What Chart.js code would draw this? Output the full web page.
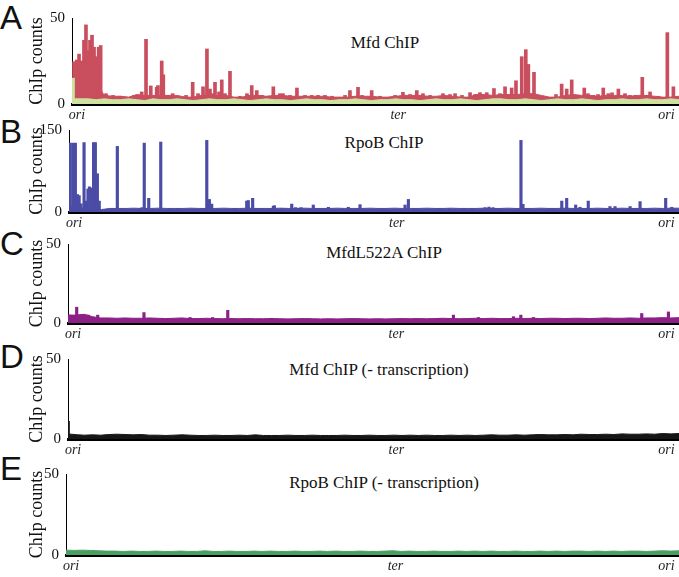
<!DOCTYPE html>
<html lang="en">
<head>
<meta charset="UTF-8">
<title>ChIP counts</title>
<script src="https://cdn.jsdelivr.net/npm/chart.js"></script>
<style>
  body { margin: 0; background: #fff; }
  #fig { position: relative; width: 679px; height: 577px; overflow: hidden; background: #fff; }
  #fig canvas { position: absolute; left: 0; }
  .lt { position: absolute; left: 0; font-family: "Liberation Sans", Arial, sans-serif; font-size: 33px; line-height: 1; color: #111; }
  .ttl { position: absolute; transform: translateX(-50%); font-family: "Liberation Serif", "Times New Roman", serif; font-size: 17px; line-height: 1; color: #111; white-space: nowrap; }
</style>
</head>
<body>
<div id="fig">
  <div class="lt" style="top:1px">A</div>
  <div class="lt" style="top:115px">B</div>
  <div class="lt" style="top:227px">C</div>
  <div class="lt" style="top:340px">D</div>
  <div class="lt" style="top:452px">E</div>
  <div class="ttl" style="left:385px;top:34px">Mfd ChIP</div>
  <div class="ttl" style="left:384px;top:134px">RpoB ChIP</div>
  <div class="ttl" style="left:384px;top:244px">MfdL522A ChIP</div>
  <div class="ttl" style="left:379px;top:361px">Mfd ChIP (- transcription)</div>
  <div class="ttl" style="left:384px;top:474px">RpoB ChIP (- transcription)</div>
  <canvas id="cA" width="679" height="126" style="top:0px"></canvas>
  <canvas id="cB" width="679" height="120" style="top:114px"></canvas>
  <canvas id="cC" width="679" height="117" style="top:228px"></canvas>
  <canvas id="cD" width="679" height="118" style="top:343px"></canvas>
  <canvas id="cE" width="679" height="119" style="top:458px"></canvas>
</div>
<script>
// genome position in kb, ori at both ends
var GENOME = 4215;
var tickPos = [35, 2265, 4128];
var tickLabels = ['ori', 'ter', 'ori'];

// A: Mfd ChIP (red peaks over a light green input track)
var mfdPos = [14,33,49,67,83,97,113,125,139,153,172,185,199,236,430,460,484,514,547,588,597,623,634,699,838,910,937,958,993,1040,1097,1215,1248,1283,1398,1444,1562,1665,1708,1757,1930,1986,2081,2298,2394,2437,2576,2660,2764,2833,2880,2930,3007,3053,3083,3123,3151,3169,3208,3400,3435,3470,3516,3557,3620,3689,3724,3794,3875,3910,3960,4014,4134,4176];
var mfdVal = [24.6,25.6,29,25,37,46,31,37,40,33,27.5,33,34,6,5,5,7,37.6,10.5,9.7,10.7,25,17,6,12.6,10,32,8.7,12.6,14,19,6,10.7,7.8,10,6,9.3,5,5,5,7.8,9.7,7.8,6.8,7.8,6,6,6,6.6,6.6,6.6,9,10,9.3,13.5,27.5,31.6,23,18.4,11.6,8.7,14,5,9.3,5,9.3,6,8.7,5,5,15.5,7,41.5,10];
var mfdSmallPos = [285,333,667,722,792,875,979,1021,1062,1167,1319,1361,1465,1514,1618,1805,1896,2014,2139,2243,2347,2486,2625,2708,2798,2972,3250,3361,3583,3653,3750,3840,3993,4069];
var mfdSmallVal = [5,4.5,5,4.5,5,6,6,7,6,4.5,5,4.5,6,5,5,4.5,5,5,4.5,5,5.5,5,5.5,5,5.5,6,4.5,5.5,6,5.5,6.5,6,5,4.5];
var mfdBase = [14,14,12,12,5,4.5,4.5,4,5.5,5,5,5,5,5,4,4,5,5,5,5,4,4,5,5,4.5,5,5,4.5,4.5,4.5,4.5,4.5,4,4,4,4.5,4.5,4.5,4,4,4.5,5,5,5,4.5,4.5,5,4.5,4,4,5.5,5.5,5,5.5,5.5,5.5,6,6,5,4,4,5,5.5,5,5,4.5,5,5,5,4.5,5,5,4.5,4,4,4.5];
var inputPeakPos = [7];
var inputPeakVal = [15];
var inputBase = [3,3,3,2.5,3,2.5,2.5,3,2.5,2,3,2.5,2.5,3,2.5,2,2.5,3,2.5,2.5,3,2.5,2,2.5,3,2.5,2.5,2,2.5,3,2.5,2.5,2,2.5,2.5,3,2.5,2,2.5,2.5,3,2.5,2.5,2,2.5,3,2.5,2.5,3,2.5,2,2.5,3,3,2.5,2.5,3,2.5,2,2.5,3,2.5,2.5,3,2.5,2,2.5,2.5,3,2.5,2.5,3,2.5,2.5,3,2.5];

// B: RpoB ChIP
var rpoPos = [7,26,44,58,70,83,104,117,131,141,152,170,182,196,209,334,491,505,520,551,634,710,952,970,986,1009,1228,1239,1269,1308,1412,1419,1470,1539,1565,1590,1604,1688,1740,1770,1792,1930,2011,2080,2322,2345,2403,2474,2543,2626,2702,2875,2902,2930,2985,3094,3123,3137,3174,3312,3405,3439,3501,3531,3588,3738,3773,3877,3911,3946,4084,4123,4165];
var rpoVal = [126,126,126,32,30,15,127,20,42,46,44,127,127,70,20,120,6,8,126,25,128,5,131,23,14.5,5,20,21,25,6,10.5,11.6,6,14.5,8,7,8,12.8,6,6,8.7,8.7,13.4,5,12.8,23,5,5,5,6,5,8,9,8,6,6,131,14,5,6,20,25,12.8,8.7,20,10,10,10,6,19,6,25,8.7];
var rpoBase = [10,8,6,5,4.5,6.5,6.5,6.5,7,6.5,6.5,7,6.5,6.5,6.5,7,6.5,6.5,6.5,7,6.5,6.5,7,6.5,6.5,6.5,7,6.5,6.5,7,6.5,6.5,6.5,7,6.5,6.5,6.5,7,6.5,6.5,7,6.5,6.5,6.5,7,6.5,6.5,7,6.5,6.5,6.5,7,6.5,6.5,7,6.5,6.5,6.5,7,6.5,6.5,7,6.5,6.5,6.5,7,6.5,6.5,7,6.5,6.5,6.5,7,6.5,7,7];

// C: MfdL522A ChIP
var l522Pos = [10,60,83,140,205,524,842,998,1102,1406,2659,2831,3073,3124,3211,3958,4142];
var l522Val = [5,10,5,5,5,6.6,3.5,3.5,8,3,5,3.5,4,5,3.5,6,7];
var l522Base = [5,5,5.5,4,3.2,3.2,3,3.2,3,3,3.2,3,2.8,3,3.2,2.8,2.8,3,2.8,2.7,2.8,2.7,2.8,2.7,2.7,2.8,2.7,2.6,2.7,2.8,2.7,2.6,2.7,2.6,2.7,2.8,2.7,2.6,2.7,2.6,2.7,2.8,2.7,2.8,2.7,2.8,3,2.8,2.7,2.8,3,2.8,3,2.8,2.8,3,2.8,3,2.8,3,3,2.8,3,3,2.8,3,3.2,3,3,3.2,3,3.2,3.2,3.4,3.2,3.4];

// D: Mfd ChIP without transcription
var mfdNtPos = [2];
var mfdNtVal = [11];
var mfdNtBase = [3.2,2.7,2.4,2.6,2.4,2.8,3,2.8,2.6,2.8,2.4,2.4,2.2,2.4,2.6,2.4,2.2,2.2,2.4,2.2,2.2,2.4,2.2,2.6,2.2,2.2,2.2,2.4,2.2,2.2,2.4,2.2,2.2,2.2,2.4,2.2,2.2,2.4,2.2,2.2,2.4,2.2,2.4,2.2,2.4,2.2,2.2,2.4,2.2,2.4,2.2,2.4,2.6,2.4,2.4,2.6,2.4,2.6,2.8,2.6,2.6,2.8,2.6,3,2.8,2.8,3,2.8,3.2,3,3,3.2,3,3.4,3.2,3.4];

// E: RpoB ChIP without transcription
var rpoNtBase = [3,2.8,3,2.8,2.6,2.4,2.4,2.2,2.4,2.2,2.2,2.4,2.2,2.2,2.4,2.2,2.2,2.6,2.2,2.2,2.4,2.2,2.2,2.4,2.2,2.4,2.2,2.2,2.4,2.2,2.2,2.4,2.2,2.4,2.2,2.2,2.4,2.2,2.2,2.4,2.6,2.2,2.4,2.2,2.2,2.4,2.2,2.2,2.4,2.2,2.4,2.2,2.4,2.2,2.2,2.4,2.2,2.2,2.4,2.2,2.4,2.2,2.4,2.4,2.2,2.4,2.2,2.4,2.2,2.4,2.4,2.2,2.4,2.6,2.4,2.6];

function toPoints(pos, val) {
    return pos.map(function(p, i) { return { x: p, y: val[i] }; })
              .sort(function(a, b) { return a.x - b.x; });
}
function baseTrack(vals) {
    var step = GENOME / (vals.length - 1);
    return vals.map(function(v, i) { return { x: i * step, y: v }; });
}
function peaks(points, color, order, width) {
    return { type: 'bar', data: points, backgroundColor: color, borderWidth: 0, barThickness: width || 2.5,
             grouped: false, order: order };
}
function band(vals, color, order) {
    return { type: 'line', data: baseTrack(vals), borderColor: color, backgroundColor: color, borderWidth: 1,
             fill: 'origin', pointRadius: 0, tension: 0, order: order };
}

var serif = '"Liberation Serif", "Times New Roman", serif';

function panel(id, datasets, yMax, left, padTop) {
    new Chart(document.getElementById(id), {
        type: 'bar',
        data: { datasets: datasets },
        options: {
            responsive: false,
            animation: false,
            layout: { padding: { top: padTop, left: 0, right: 0, bottom: 0 } },
            plugins: { legend: { display: false }, tooltip: { enabled: false } },
            scales: {
                x: {
                    type: 'linear', min: 0, max: GENOME, offset: false, z: 1,
                    grid: { display: false, drawTicks: false },
                    border: { color: '#000', width: 3 },
                    afterBuildTicks: function(s) { s.ticks = tickPos.map(function(v) { return { value: v }; }); },
                    afterFit: function(s) { s.height = 22; },
                    ticks: {
                        autoSkip: false, maxRotation: 0, padding: 3, color: '#222',
                        font: { family: serif, style: 'italic', size: 14 },
                        callback: function(v) { return tickLabels[tickPos.indexOf(v)]; }
                    }
                },
                y: {
                    min: 0, max: yMax,
                    grid: { display: false, drawTicks: false },
                    border: { color: '#000', width: 1 },
                    afterBuildTicks: function(s) { s.ticks = [{ value: 0 }, { value: yMax }]; },
                    afterFit: function(s) { s.width = left; },
                    ticks: { color: '#111', padding: 7, font: { family: serif, size: 15 } },
                    title: { display: true, text: 'ChIp counts', color: '#111', font: { family: serif, size: 18 }, padding: { top: 26, bottom: 0 } }
                }
            }
        }
    });
}

var red = 'rgb(201,78,94)', lime = 'rgb(206,226,160)', blue = 'rgb(74,76,166)',
    purple = 'rgb(139,32,134)', black = '#161616', green = 'rgb(72,160,98)';

panel('cA', [
    band(mfdBase, red, 4),
    peaks(toPoints(mfdPos, mfdVal).concat(toPoints(mfdSmallPos, mfdSmallVal)), red, 3, 3),
    band(inputBase, lime, 2),
    peaks(toPoints(inputPeakPos, inputPeakVal), lime, 1, 3)
], 50, 72, 18);
panel('cB', [band(rpoBase, blue, 2), peaks(toPoints(rpoPos, rpoVal), blue, 1)], 150, 69, 12);
panel('cC', [band(l522Base, purple, 2), peaks(toPoints(l522Pos, l522Val), purple, 1)], 50, 68, 12);
panel('cD', [band(mfdNtBase, black, 2), peaks(toPoints(mfdNtPos, mfdNtVal), black, 1)], 50, 68, 12);
panel('cE', [band(rpoNtBase, green, 1)], 50, 66, 12);
</script>
</body>
</html>
